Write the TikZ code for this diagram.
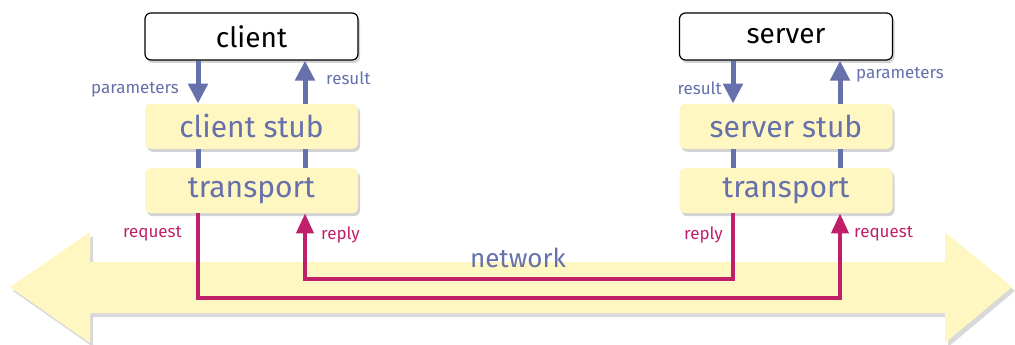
\documentclass[tikz,border=0pt]{standalone}
\usepackage{fontspec}
\setmainfont{Fira Sans}
\usetikzlibrary{positioning,shadows,arrows.meta}
\definecolor{rpcblue}{HTML}{6670AB}
\definecolor{rpcred}{HTML}{C0206A}
\definecolor{rpcyellow}{HTML}{FFF7C2}

\begin{document}
\begin{tikzpicture}[x=1pt,y=-1pt,
host/.style={rectangle, rounded corners=6pt, draw=black, line width=1.2pt, fill=white,
  minimum width=213pt, minimum height=47pt, font=\fontsize{28}{30}\selectfont,
  drop shadow={shadow xshift=2pt,shadow yshift=-3pt,opacity=.35}},
layer/.style={rectangle, rounded corners=6pt, fill=rpcyellow, text=rpcblue,
  minimum width=213pt, minimum height=45pt, font=\fontsize{30}{32}\selectfont,
  drop shadow={shadow xshift=2pt,shadow yshift=-3pt,opacity=.35}},
call/.style={draw=rpcblue, line width=5pt, -{Triangle[length=20pt,width=19pt]}},
link/.style={draw=rpcblue, line width=5pt},
msg/.style={draw=rpcred, line width=4pt, -{Triangle[length=20pt,width=17pt]}},
bluelbl/.style={text=rpcblue, font=\fontsize{17}{19}\selectfont, inner sep=1pt},
redlbl/.style={text=rpcred, font=\fontsize{17}{19}\selectfont, inner sep=1pt},
]
\useasboundingbox (0,0) rectangle (1015,345);

% network arrow
\fill[rpcyellow, drop shadow={shadow xshift=3pt,shadow yshift=-4pt,opacity=.3}]
  (10,287) -- (90,232) -- (90,262) -- (945,262) -- (945,232) -- (1012,287)
  -- (945,343) -- (945,313) -- (90,313) -- (90,343) -- cycle;
\node[text=rpcblue, font=\fontsize{26}{28}\selectfont] (net) at (518,258) {network};

% client side
\node[host] (client) at (251.5,36.5) {client};
\node[layer, below=43pt of client] (cstub) {client stub};
\node[layer, below=19pt of cstub] (ctrans) {transport};

% server side
\node[host] (server) at (786,36.5) {server};
\node[layer, below=43pt of server] (sstub) {server stub};
\node[layer, below=19pt of sstub] (strans) {transport};

\draw[call] ([xshift=-53.5pt]client.south) -- ([xshift=-53.5pt]cstub.north);
\draw[call] ([xshift=53.5pt]cstub.north) -- ([xshift=53.5pt]client.south);
\draw[call] ([xshift=-53pt]server.south) -- ([xshift=-53pt]sstub.north);
\draw[call] ([xshift=54pt]sstub.north) -- ([xshift=54pt]server.south);

\draw[link] ([xshift=-53.5pt]cstub.south) -- ([xshift=-53.5pt]ctrans.north);
\draw[link] ([xshift=53.5pt]cstub.south) -- ([xshift=53.5pt]ctrans.north);
\draw[link] ([xshift=-53pt]sstub.south) -- ([xshift=-53pt]strans.north);
\draw[link] ([xshift=54pt]sstub.south) -- ([xshift=54pt]strans.north);

\draw[msg] ([xshift=-53.5pt]ctrans.south) -- ++(0,85) -| ([xshift=54pt]strans.south);
\draw[msg] ([xshift=-53pt]strans.south) -- ++(0,66) -| ([xshift=53.5pt]ctrans.south);

% labels
\node[bluelbl, anchor=east] (cpar) at (180,90) {parameters};
\node[bluelbl, anchor=west] (cres) at (325,78) {result};
\node[bluelbl, anchor=east] (sres) at (723,88) {result};
\node[bluelbl, anchor=west] (spar) at (855,75) {parameters};
\node[redlbl, anchor=east] (creq) at (183,234) {request};
\node[redlbl, anchor=west] (crep) at (320,235) {reply};
\node[redlbl, anchor=east] (srep) at (724,235) {reply};
\node[redlbl, anchor=west] (sreq) at (853,234) {request};
\end{tikzpicture}
\end{document}
